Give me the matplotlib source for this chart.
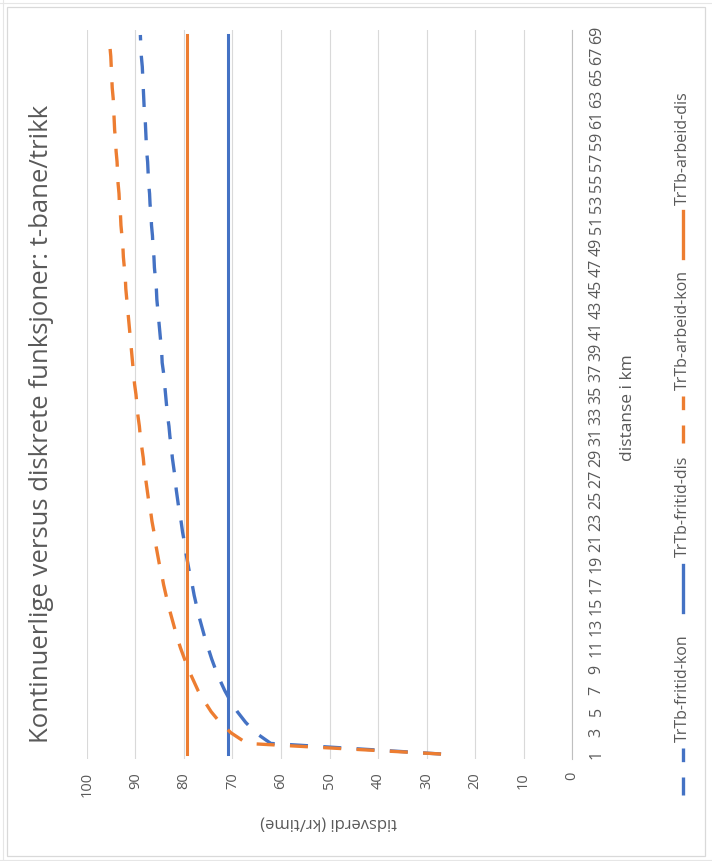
import matplotlib
matplotlib.use("Agg")
import matplotlib.pyplot as plt
from matplotlib.lines import Line2D
from matplotlib.patches import Rectangle

plt.rcParams["font.family"] = ["Open Sans", "DejaVu Sans"]

# ---- data -------------------------------------------------------------
distance_km = list(range(1, 70))

fritid_kon = [
    27.0, 62.1, 65.2, 67.3, 69.0, 70.4, 71.6, 72.6, 73.5, 74.3,
    75.0, 75.7, 76.3, 76.9, 77.4, 77.9, 78.3, 78.8, 79.2, 79.6,
    79.9, 80.3, 80.6, 81.0, 81.3, 81.6, 81.8, 82.1, 82.4, 82.6,
    82.9, 83.1, 83.4, 83.6, 83.8, 84.0, 84.2, 84.5, 84.6, 84.8,
    85.0, 85.2, 85.4, 85.6, 85.7, 85.9, 86.1, 86.2, 86.4, 86.5,
    86.7, 86.8, 87.0, 87.1, 87.3, 87.4, 87.5, 87.7, 87.8, 87.9,
    88.0, 88.2, 88.3, 88.4, 88.5, 88.6, 88.8, 88.9, 89.0,
]
arbeid_kon = [
    27.0, 67.0, 70.3, 72.6, 74.4, 75.8, 77.1, 78.1, 79.1, 79.9,
    80.7, 81.4, 82.0, 82.6, 83.2, 83.7, 84.2, 84.6, 85.1, 85.5,
    85.9, 86.2, 86.6, 86.9, 87.3, 87.6, 87.9, 88.2, 88.4, 88.7,
    89.0, 89.2, 89.5, 89.7, 89.9, 90.2, 90.4, 90.6, 90.8, 91.0,
    91.2, 91.4, 91.6, 91.8, 92.0, 92.1, 92.3, 92.5, 92.6, 92.8,
    93.0, 93.1, 93.3, 93.4, 93.6, 93.7, 93.8, 94.0, 94.1, 94.3,
    94.4, 94.5, 94.6, 94.8, 94.9, 95.0, 95.1, 95.3, 95.4,
]
fritid_dis_level = 71.0
arbeid_dis_level = 79.3
fritid_dis = [fritid_dis_level] * len(distance_km)
arbeid_dis = [arbeid_dis_level] * len(distance_km)

value_ticks = list(range(0, 101, 10))
distance_ticks = distance_km[::2]

series_names = ["TrTb-fritid-kon", "TrTb-fritid-dis", "TrTb-arbeid-kon", "TrTb-arbeid-dis"]

title = "Kontinuerlige versus diskrete funksjoner: t-bane/trikk"
value_label = "tidsverdi (kr/time)"
distance_label = "distanse i km"

# ---- style ------------------------------------------------------------
BLUE = "#4472C4"
ORANGE = "#ED7D31"
TEXT = "#595959"
GRID = "#d9d9d9"
DASH = (0, (5.4, 4.6))

W, H = 712, 861
fig = plt.figure(figsize=(W / 100, H / 100), dpi=100)


def fx(px):
    return px / W


def fy(py):
    return 1 - py / H


# chart frame and surrounding sheet lines
fig.patches.append(Rectangle((fx(7), fy(856)), fx(698), (849) / H,
                             transform=fig.transFigure, fill=False,
                             edgecolor=GRID, lw=0.9))
for y in (2.5, 859.5):
    fig.add_artist(Line2D([0, 1], [fy(y), fy(y)], color="#e6e6e6", lw=0.8))
fig.add_artist(Line2D([fx(2.5), fx(2.5)], [0, 1], color="#e6e6e6", lw=0.8))

# plot area: value axis runs horizontally (100 on the left), distance vertically
left, right, top, bottom = 87, 572, 29.7, 759.3
ax = fig.add_axes([fx(left), fy(bottom), (right - left) / W, (bottom - top) / H])
ax.set_xlim(100, 0)
ax.set_ylim(0.5, len(distance_km) + 0.5)

ax.plot(fritid_kon, distance_km, color=BLUE, lw=2.4, ls=DASH, zorder=3)
ax.plot(fritid_dis, distance_km, color=BLUE, lw=2.2, zorder=3)
ax.plot(arbeid_kon, distance_km, color=ORANGE, lw=2.4, ls=DASH, zorder=3)
ax.plot(arbeid_dis, distance_km, color=ORANGE, lw=2.2, zorder=3)

ax.set_xticks(value_ticks)
ax.set_xticklabels([str(v) for v in value_ticks])
ax.xaxis.grid(True, color=GRID, lw=0.8)
ax.set_axisbelow(True)
ax.tick_params(axis="x", length=0, pad=9, labelrotation=90,
               labelsize=10.5, labelcolor=TEXT)

ax.yaxis.tick_right()
ax.set_yticks(distance_ticks)
ax.set_yticklabels([str(d) for d in distance_ticks])
ax.tick_params(axis="y", length=0, pad=12, labelrotation=90,
               labelsize=11.5, labelcolor=TEXT)
for lbl in ax.get_yticklabels():
    lbl.set_verticalalignment("center")

for side in ("left", "top", "bottom"):
    ax.spines[side].set_visible(False)
ax.spines["right"].set_color("#bfbfbf")
ax.spines["right"].set_linewidth(0.8)

# titles
fig.text(fx(42), fy(424), title, rotation=90, ha="center", va="center",
         fontsize=18.5, color=TEXT)
fig.text(fx(329), fy(823), value_label, rotation=180, ha="center",
         va="center", fontsize=12, color=TEXT)
fig.text(fx(628), fy(408), distance_label, rotation=90, ha="center",
         va="center", fontsize=12.5, color=TEXT)

# legend, stacked along the right edge
legend_x = 683
legend_entries = [
    (series_names[0], BLUE, DASH, 795, 742),
    (series_names[1], BLUE, "-", 612, 557),
    (series_names[2], ORANGE, DASH, 443, 390),
    (series_names[3], ORANGE, "-", 258, 205),
]
for name, color, style, y0, ytext in legend_entries:
    fig.add_artist(Line2D([fx(legend_x), fx(legend_x)], [fy(y0), fy(y0 - 47)],
                          color=color, lw=2.4, ls=style))
    fig.text(fx(legend_x), fy(ytext), name, rotation=90, ha="center",
             va="bottom", fontsize=11.5, color=TEXT)

fig.savefig("out.png", dpi=100)
